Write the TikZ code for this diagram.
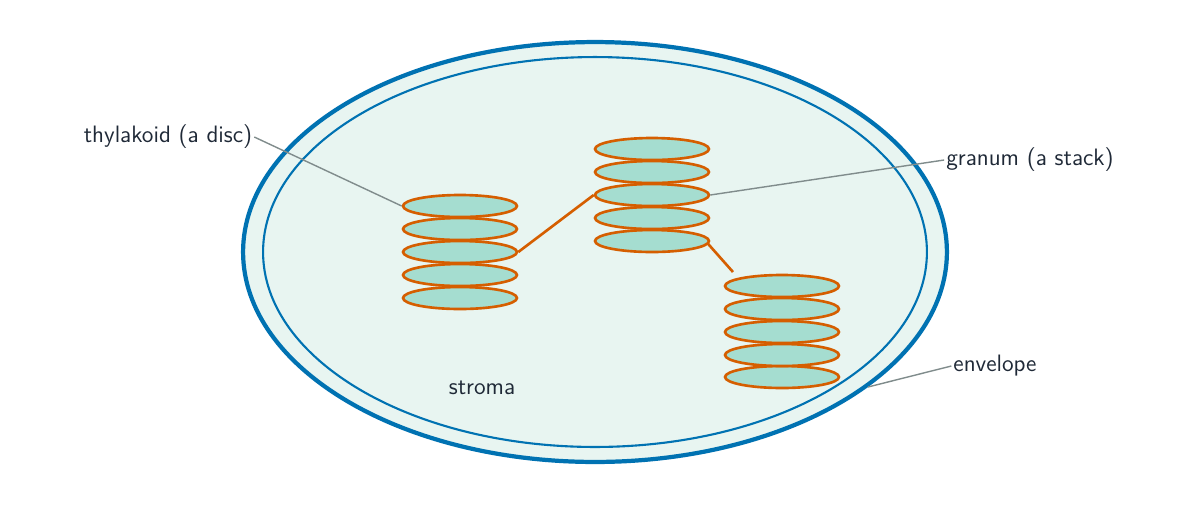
\documentclass[tikz,border=0pt]{standalone}
\usetikzlibrary{shapes.geometric}
\definecolor{blu}{RGB}{0,114,178}
\definecolor{org}{RGB}{213,94,0}
\definecolor{mint}{RGB}{232,245,241}
\definecolor{discf}{RGB}{165,221,208}
\definecolor{txt}{RGB}{31,41,55}
\definecolor{gry}{RGB}{128,140,140}
\begin{document}
\begin{tikzpicture}[x=0.02cm,y=-0.02cm,
  disc/.style={ellipse,draw=org,fill=discf,line width=1.5pt,minimum width=114\pgflinewidth*0+2.28cm,minimum height=0.44cm,inner sep=0pt},
  lab/.style={text=txt,font=\sffamily\fontsize{13.5}{16}\selectfont,inner sep=1pt},
  lead/.style={draw=gry,line width=0.8pt},
  link/.style={draw=org,line width=1.5pt}]
\useasboundingbox (0,0) rectangle (1201,505);
\node[ellipse,draw=blu,fill=mint,line width=2.4pt,minimum width=14.08cm,minimum height=8.4cm] (outer) at (595,252) {};
\node[ellipse,draw=blu,line width=1.2pt,minimum width=13.28cm,minimum height=7.8cm] (inner) at (595,252) {};
\foreach \i/\y in {5/298,4/275,3/252,2/229,1/206} \node[disc] (a\i) at (460,\y) {};
\foreach \i/\y in {5/241,4/218,3/195,2/172,1/149} \node[disc] (b\i) at (652,\y) {};
\foreach \i/\y in {5/377,4/355,3/332,2/309,1/286} \node[disc] (c\i) at (782,\y) {};
\draw[link] (a3.east) -- (b3.west);
\draw[link] (b5.east) ++(-3,2) coordinate (bl) (bl) -- (733,272) coordinate (cl);
\node[lab] (thy) at (168,137) {thylakoid (a disc)};
\node[lab] (gra) at (1030,160) {granum (a stack)};
\node[lab] (env) at (995,366) {envelope};
\node[lab] (str) at (482,388) {stroma};
\draw[lead] (thy.east) -- (a1.west);
\draw[lead] (gra.west) -- (b3.east);
\draw[lead] (env.west) -- (868,387) coordinate (envp);
\end{tikzpicture}
\end{document}
